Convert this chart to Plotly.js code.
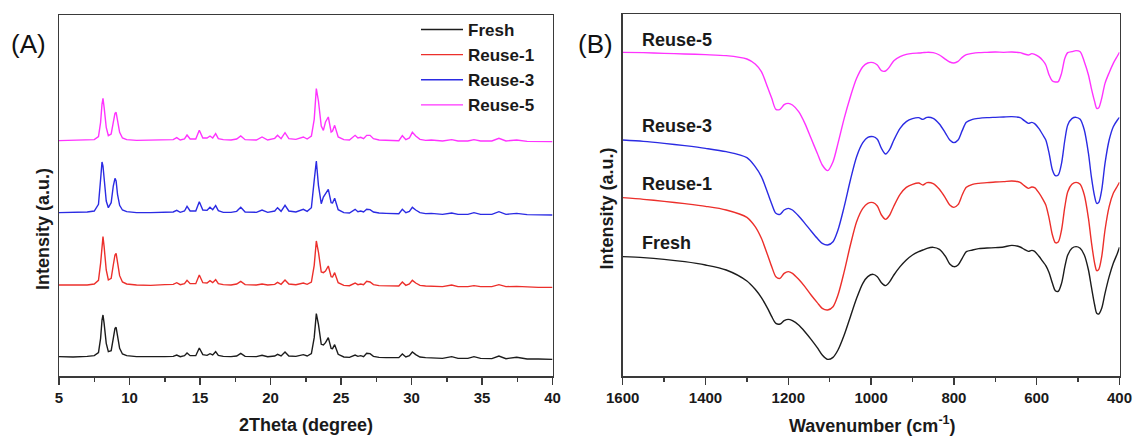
<!DOCTYPE html>
<html>
<head>
<meta charset="utf-8">
<script src="https://cdn.plot.ly/plotly-3.0.1.min.js"></script>
<style>
html,body{margin:0;padding:0;background:#fff;}
#chart{width:1135px;height:443px;}
</style>
</head>
<body>
<div id="chart"></div>
<script>
// ---------- Panel (A): XRD patterns (stacked, arbitrary units) ----------
const twoTheta = [5, 6, 7, 7.5, 7.8, 7.95, 8.05, 8.12, 8.2, 8.35, 8.5, 8.7, 8.85, 8.97, 9.05, 9.15, 9.3, 9.5, 9.8, 10.5, 11.5, 12.5, 13.1, 13.35, 13.6, 13.9, 14.08, 14.3, 14.7, 14.95, 15.2, 15.5, 15.71, 15.9, 16.11, 16.3, 16.65, 17.2, 17.6, 17.89, 18.2, 19.0, 19.4, 19.8, 20.3, 20.5, 20.75, 21.03, 21.3, 21.8, 22.33, 22.6, 22.9, 23.1, 23.25, 23.4, 23.6, 23.75, 23.9, 24.1, 24.3, 24.4, 24.55, 24.8, 25.2, 25.6, 26.0, 26.2, 26.4, 26.6, 26.82, 27.06, 27.3, 27.7, 28.2, 28.8, 29.1, 29.35, 29.6, 29.85, 30.06, 30.3, 30.6, 31.0, 31.4, 32.2, 32.85, 33.3, 34.0, 34.43, 34.9, 35.7, 36.2, 36.7, 37.46, 38.2, 39, 40];

const xrdFresh = [58, 57, 59, 61, 70, 113, 168, 183, 158, 98, 73, 76, 113, 143, 146, 118, 83, 66, 61, 58, 57, 58, 59, 63, 58, 61, 69, 61, 61, 84, 64, 62, 67, 63, 73, 62, 59, 58, 60, 68, 59, 58, 62, 58, 60, 65, 60, 72, 60, 59, 64, 60, 67, 115, 187, 155, 95, 93, 100, 115, 83, 82, 94, 65, 57, 56, 63, 59, 61, 58, 68, 67, 59, 56, 55, 56, 55, 66, 57, 61, 72, 64, 57, 55, 55, 53, 58, 53, 53, 58, 53, 52, 60, 52, 56, 51, 51, 50];

const xrdReuse1 = [273, 274, 273, 276, 287, 338, 403, 418, 388, 318, 288, 293, 333, 363, 368, 338, 301, 282, 276, 273, 272, 274, 275, 280, 274, 277, 287, 277, 277, 303, 280, 279, 286, 280, 289, 277, 274, 273, 276, 284, 274, 273, 276, 273, 275, 281, 275, 288, 276, 274, 279, 275, 282, 332, 405, 372, 312, 310, 315, 330, 298, 297, 310, 280, 272, 271, 279, 274, 276, 274, 284, 282, 274, 271, 270, 271, 270, 282, 272, 276, 287, 279, 272, 270, 270, 268, 273, 268, 268, 271, 268, 268, 274, 268, 269, 267, 266, 266];

const xrdReuse3 = [490, 491, 492, 495, 515, 590, 642, 630, 585, 525, 505, 520, 570, 593, 585, 545, 512, 498, 493, 490, 490, 491, 492, 497, 491, 495, 509, 495, 495, 523, 498, 497, 506, 499, 511, 496, 491, 491, 494, 506, 492, 491, 498, 491, 495, 505, 494, 512, 495, 492, 500, 494, 505, 587, 645, 572, 517, 537, 547, 560, 520, 519, 533, 499, 490, 489, 500, 493, 495, 492, 500, 499, 492, 489, 488, 488, 487, 500, 490, 494, 506, 498, 490, 487, 488, 485, 489, 485, 485, 490, 485, 485, 493, 485, 488, 484, 484, 483];

const xrdReuse5 = [706, 707, 707, 709, 718, 761, 816, 833, 806, 746, 721, 726, 761, 788, 791, 764, 731, 714, 709, 707, 707, 708, 709, 715, 708, 711, 723, 711, 711, 737, 714, 714, 720, 714, 727, 712, 709, 708, 711, 720, 709, 708, 717, 708, 713, 722, 712, 730, 712, 710, 717, 711, 720, 770, 862, 825, 750, 737, 762, 777, 732, 735, 752, 717, 709, 708, 722, 714, 716, 712, 722, 722, 712, 708, 707, 707, 706, 721, 709, 714, 731, 720, 710, 707, 708, 705, 709, 705, 705, 709, 705, 705, 713, 705, 708, 704, 704, 703];

const xrdTickVals = [5, 10, 15, 20, 25, 30, 35, 40];

// ---------- Panel (B): FTIR spectra (stacked, arbitrary units) ----------
const wavenumber = [1600, 1550, 1500, 1450, 1400, 1350, 1300, 1280, 1265, 1250, 1240, 1230, 1220, 1210, 1200, 1190, 1175, 1160, 1145, 1130, 1118, 1105, 1092, 1080, 1065, 1050, 1035, 1020, 1008, 995, 985, 975, 965, 955, 945, 930, 915, 900, 885, 875, 865, 850, 835, 820, 810, 800, 790, 780, 770, 755, 740, 720, 700, 680, 660, 640, 630, 620, 612, 605, 595, 585, 578, 570, 562, 555, 548, 540, 532, 525, 515, 505, 495, 485, 475, 468, 460, 455, 450, 443, 435, 425, 415, 405, 400];

const irFresh = [358, 355, 350, 343, 333, 318, 285, 260, 235, 203, 178, 158, 156, 166, 170, 166, 153, 133, 110, 85, 63, 50, 56, 78, 123, 178, 233, 278, 298, 305, 298, 280, 271, 283, 303, 328, 348, 363, 373, 378, 383, 386, 380, 358, 336, 328, 333, 353, 373, 378, 382, 384, 385, 387, 392, 387, 380, 374, 377, 374, 360, 343, 331, 310, 278, 256, 254, 278, 328, 363, 383, 388, 383, 363, 318, 268, 213, 188, 186, 203, 248, 298, 338, 368, 386];

const irReuse1 = [535, 530, 524, 517, 509, 498, 476, 448, 413, 363, 328, 298, 293, 308, 313, 308, 290, 268, 243, 220, 203, 198, 208, 243, 313, 393, 463, 503, 518, 520, 510, 483, 470, 483, 510, 545, 566, 575, 579, 573, 580, 577, 560, 533, 513, 506, 514, 543, 566, 575, 578, 580, 582, 583, 585, 581, 571, 563, 567, 565, 550, 530, 513, 473, 423, 400, 402, 438, 508, 553, 575, 581, 575, 543, 473, 403, 338, 316, 320, 358, 438, 508, 548, 570, 581];

const irReuse3 = [708, 704, 698, 691, 683, 673, 655, 628, 598, 550, 516, 488, 485, 498, 503, 498, 480, 458, 435, 413, 398, 393, 403, 438, 508, 588, 658, 700, 716, 718, 710, 683, 666, 680, 708, 743, 763, 772, 775, 770, 776, 773, 756, 728, 708, 700, 708, 736, 761, 770, 773, 775, 776, 777, 778, 775, 766, 758, 761, 757, 743, 723, 708, 668, 618, 601, 603, 638, 708, 753, 772, 776, 770, 738, 668, 598, 538, 518, 521, 558, 638, 708, 748, 768, 776];

const irReuse5 = [971, 970, 968, 966, 964, 961, 951, 936, 913, 866, 833, 800, 800, 814, 818, 813, 793, 758, 713, 668, 633, 616, 643, 698, 773, 838, 893, 928, 939, 940, 933, 916, 915, 928, 946, 958, 965, 968, 969, 970, 971, 970, 963, 950, 942, 939, 944, 956, 964, 968, 970, 971, 972, 971, 972, 970, 966, 963, 967, 965, 958, 946, 933, 903, 885, 882, 883, 908, 953, 970, 973, 976, 973, 943, 903, 863, 823, 803, 805, 833, 878, 910, 938, 960, 971];

const irTickVals = [1600, 1400, 1200, 1000, 800, 600, 400];

const seriesNames = ['Fresh', 'Reuse-1', 'Reuse-3', 'Reuse-5'];
const seriesColors = ['#1c1c1c', '#ec2f2b', '#2b2be3', '#ff33ff'];

// ---------- Figure ----------
const W = 1135, H = 443;
const px = v => v / W;
const py = v => 1 - v / H;
const FONT = 'Arial, "Liberation Sans", Helvetica, sans-serif';

const xrdSeries = [xrdFresh, xrdReuse1, xrdReuse3, xrdReuse5];
const irSeries = [irFresh, irReuse1, irReuse3, irReuse5];

const traces = [];
xrdSeries.forEach((ys, i) => {
  traces.push({
    type: 'scatter', mode: 'lines', x: twoTheta, y: ys, name: seriesNames[i],
    line: {color: seriesColors[i], width: 1.4}, xaxis: 'x', yaxis: 'y',
    hoverinfo: 'x+y+name'
  });
});
irSeries.forEach((ys, i) => {
  traces.push({
    type: 'scatter', mode: 'lines', x: wavenumber, y: ys, name: seriesNames[i],
    line: {color: seriesColors[i], width: 1.4, shape: 'spline', smoothing: 0.8},
    xaxis: 'x2', yaxis: 'y2', showlegend: false, hoverinfo: 'x+y+name'
  });
});

const axisCommon = {
  showline: true, mirror: true, linecolor: '#3a3a3a', linewidth: 1.5,
  showgrid: false, zeroline: false, fixedrange: true
};
const tickFont = {family: FONT, size: 15, color: '#1a1a1a', weight: 700};
const boldFont = {family: FONT, size: 18, color: '#1a1a1a', weight: 700};

const layout = {
  width: W, height: H,
  margin: {l: 0, r: 0, t: 0, b: 0},
  paper_bgcolor: '#ffffff', plot_bgcolor: '#ffffff',
  font: {family: FONT, color: '#1a1a1a'},
  showlegend: true,
  legend: {
    x: px(416), y: py(12), xanchor: 'left', yanchor: 'top',
    bgcolor: 'rgba(0,0,0,0)', borderwidth: 0,
    font: {family: FONT, size: 17, color: '#1a1a1a', weight: 700},
    itemwidth: 42, tracegroupgap: 0
  },
  xaxis: Object.assign({}, axisCommon, {
    domain: [px(59), px(552.5)], range: [5, 40],
    tickmode: 'array', tickvals: xrdTickVals,
    ticks: 'outside', ticklen: 7, tickwidth: 1.5, tickcolor: '#3a3a3a',
    minor: {ticks: 'outside', ticklen: 4, tickwidth: 1.5, tickcolor: '#3a3a3a', dtick: 2.5, tick0: 5, showgrid: false},
    tickfont: tickFont, anchor: 'y'
  }),
  yaxis: Object.assign({}, axisCommon, {
    domain: [py(376), py(15)], range: [0, 1083],
    showticklabels: false, ticks: '', anchor: 'x'
  }),
  xaxis2: Object.assign({}, axisCommon, {
    domain: [px(622.7), px(1119.5)], range: [1600, 400],
    tickmode: 'array', tickvals: irTickVals,
    ticks: 'outside', ticklen: 7, tickwidth: 1.5, tickcolor: '#3a3a3a',
    minor: {ticks: 'outside', ticklen: 4, tickwidth: 1.5, tickcolor: '#3a3a3a', dtick: 100, tick0: 400, showgrid: false},
    tickfont: tickFont, anchor: 'y2'
  }),
  yaxis2: Object.assign({}, axisCommon, {
    domain: [py(376), py(14)], range: [0, 1086],
    showticklabels: false, ticks: '', anchor: 'x2'
  }),
  annotations: [
    {text: '(A)', x: px(28), y: py(44.5), xref: 'paper', yref: 'paper', showarrow: false,
     xanchor: 'center', yanchor: 'middle', font: {family: FONT, size: 26, color: '#111'}},
    {text: '(B)', x: px(595), y: py(44), xref: 'paper', yref: 'paper', showarrow: false,
     xanchor: 'center', yanchor: 'middle', font: {family: FONT, size: 26, color: '#111'}},
    {text: '2Theta (degree)', x: px(306), y: py(425), xref: 'paper', yref: 'paper', showarrow: false,
     xanchor: 'center', yanchor: 'middle', font: boldFont},
    {text: 'Wavenumber (cm<sup>-1</sup>)', x: px(872), y: py(424), xref: 'paper', yref: 'paper', showarrow: false,
     xanchor: 'center', yanchor: 'middle', font: boldFont},
    {text: 'Intensity (a.u.)', x: px(43), y: py(229), xref: 'paper', yref: 'paper', showarrow: false,
     textangle: -90, xanchor: 'center', yanchor: 'middle', font: boldFont},
    {text: 'Intensity (a.u.)', x: px(606.5), y: py(209), xref: 'paper', yref: 'paper', showarrow: false,
     textangle: -90, xanchor: 'center', yanchor: 'middle', font: boldFont},
    {text: 'Reuse-5', x: px(640), y: py(39.5), xref: 'paper', yref: 'paper', showarrow: false,
     xanchor: 'left', yanchor: 'middle', font: boldFont},
    {text: 'Reuse-3', x: px(640), y: py(125.5), xref: 'paper', yref: 'paper', showarrow: false,
     xanchor: 'left', yanchor: 'middle', font: boldFont},
    {text: 'Reuse-1', x: px(640), y: py(183.8), xref: 'paper', yref: 'paper', showarrow: false,
     xanchor: 'left', yanchor: 'middle', font: boldFont},
    {text: 'Fresh', x: px(640), y: py(243), xref: 'paper', yref: 'paper', showarrow: false,
     xanchor: 'left', yanchor: 'middle', font: boldFont}
  ]
};

Plotly.newPlot('chart', traces, layout, {displayModeBar: false, staticPlot: true});
</script>
</body>
</html>
